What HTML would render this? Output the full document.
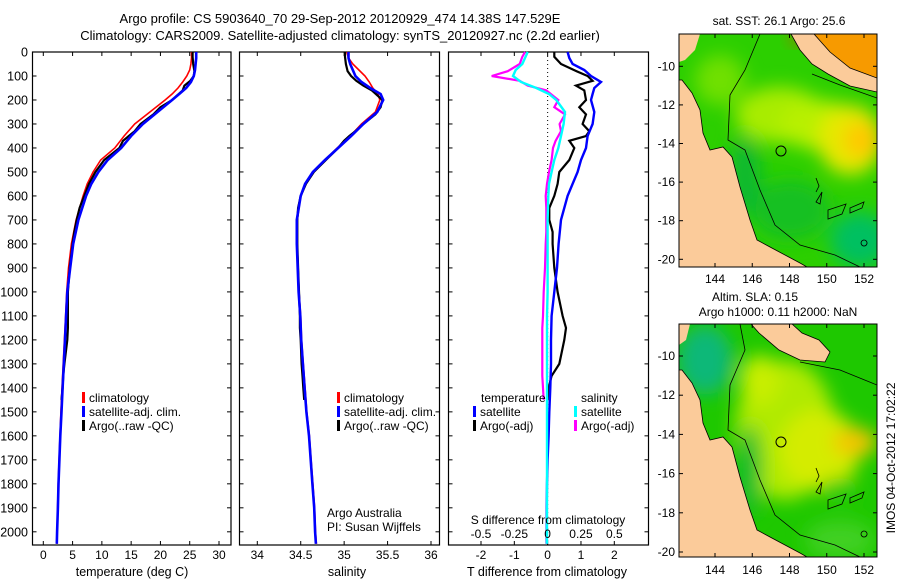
<!DOCTYPE html>
<html><head><meta charset="utf-8">
<style>
html,body{margin:0;padding:0;background:#fff;}
svg{display:block;font-family:"Liberation Sans",sans-serif;}
text{fill:#000;}
</style></head>
<body>
<svg id="fig" width="900" height="580" viewBox="0 0 900 580" xmlns="http://www.w3.org/2000/svg">
<defs>
<filter id="blur8" x="-50%" y="-50%" width="200%" height="200%"><feGaussianBlur stdDeviation="9"/></filter>
<clipPath id="clipM1"><rect x="679" y="34" width="198" height="233"/></clipPath>
<clipPath id="clipM2"><rect x="679" y="324" width="198" height="233"/></clipPath>
</defs>
<text x="340" y="23" font-size="13" text-anchor="middle">Argo profile: CS 5903640_70 29-Sep-2012 20120929_474 14.38S 147.529E</text>
<text x="340" y="40" font-size="13" text-anchor="middle">Climatology: CARS2009. Satellite-adjusted climatology: synTS_20120927.nc (2.2d earlier)</text>

<!-- Map 1 -->
<g>
<g clip-path="url(#clipM1)">
<rect x="679" y="34" width="198" height="233" fill="#2ccf00"/>
<g filter="url(#blur8)">
<ellipse cx="780" cy="115" rx="45" ry="28" fill="#a8ec00"/>
<ellipse cx="820" cy="125" rx="40" ry="25" fill="#b8f000"/>
<ellipse cx="850" cy="140" rx="32" ry="35" fill="#e6e800"/>
<ellipse cx="862" cy="140" rx="18" ry="18" fill="#ffc800"/>
<ellipse cx="860" cy="240" rx="30" ry="28" fill="#00c060"/>
<ellipse cx="790" cy="210" rx="40" ry="30" fill="#14c020"/>
<ellipse cx="745" cy="175" rx="15" ry="40" fill="#10b830"/>
<ellipse cx="720" cy="80" rx="25" ry="25" fill="#70e000"/>
</g>
<polygon points="812,34 877,34 877,78 850,68 830,52" fill="#f79a00"/>
<ellipse cx="800" cy="38" rx="10" ry="6" fill="#c85000" filter="url(#blur8)"/>
<polygon points="679,34 700,34 695,50 685,60 679,62" fill="#fbcb9a"/>
<polygon points="791,34 814,34 830,52 850,68 877,78 877,92 850,86 828,74 812,64 800,50" fill="#fbcb9a" stroke="#000" stroke-width="0.8"/>
<polygon points="679,80 682,80 692,93 700,110 703,133 710,150 723,147 732,157 740,187 750,220 757,240 770,247 800,263 807,267 679,267" fill="#fbcb9a" stroke="#000" stroke-width="0.8"/>
<polyline points="760,34 745,70 730,95 728,140 745,150 760,190 775,225 800,245 835,255 860,267" fill="none" stroke="#000" stroke-width="0.8"/>
<polyline points="812,74 840,85 877,98" fill="none" stroke="#000" stroke-width="0.8"/>
<path d="M816,178 l3,8 -3,6 M822,192 l-6,10 l4,2 z M828,210 l18,-6 -4,10 -14,5 z M850,208 l14,-6 -2,6 -12,5 z M864,240 a3,3 0 1,0 0.1,0" fill="none" stroke="#000" stroke-width="0.8"/>
</g>
<rect x="679" y="34" width="198" height="233" fill="none" stroke="#000" stroke-width="1"/>
<circle cx="781" cy="151" r="5" fill="none" stroke="#000" stroke-width="1"/>
<text x="779" y="25" font-size="12" text-anchor="middle">sat. SST: 26.1 Argo: 25.6</text>
</g>

<!-- Map 2 -->
<g>
<g clip-path="url(#clipM2)">
<rect x="679" y="324" width="198" height="233" fill="#1ec800"/>
<g filter="url(#blur8)">
<ellipse cx="705" cy="360" rx="28" ry="35" fill="#10b878"/>
<ellipse cx="785" cy="430" rx="50" ry="70" fill="#b0ea00"/>
<ellipse cx="820" cy="450" rx="40" ry="40" fill="#d4ec00"/>
<ellipse cx="855" cy="442" rx="22" ry="14" fill="#f5c400"/>
<ellipse cx="840" cy="490" rx="18" ry="12" fill="#2ccc10"/>
<ellipse cx="760" cy="380" rx="20" ry="25" fill="#c8ee00"/>
<ellipse cx="750" cy="470" rx="12" ry="45" fill="#18bc30"/>
<ellipse cx="840" cy="540" rx="35" ry="20" fill="#40d020"/>
</g>
<polygon points="751,324 792,324 802,333 819,340 830,352 825,362 800,360 779,350 759,333" fill="#fbcb9a" stroke="#000" stroke-width="0.8"/>
<polygon points="679,324 690,324 686,340 679,345" fill="#fbcb9a"/>
<polygon points="679,370 682,370 692,383 700,400 703,423 710,440 723,437 732,447 740,477 750,510 757,530 770,537 800,553 807,557 679,557" fill="#fbcb9a" stroke="#000" stroke-width="0.8"/>
<polyline points="740,324 745,350 730,385 728,430 745,440 760,480 775,515 800,535 835,545 860,557" fill="none" stroke="#000" stroke-width="0.8"/>
<polyline points="800,362 840,370 877,385" fill="none" stroke="#000" stroke-width="0.8"/>
<path d="M816,468 l3,8 -3,6 M822,482 l-6,10 l4,2 z M828,500 l18,-6 -4,10 -14,5 z M850,498 l14,-6 -2,6 -12,5 z M864,531 a3,3 0 1,0 0.1,0" fill="none" stroke="#000" stroke-width="0.8"/>
</g>
<rect x="679" y="324" width="198" height="233" fill="none" stroke="#000" stroke-width="1"/>
<circle cx="781" cy="442" r="5" fill="none" stroke="#000" stroke-width="1"/>
<text x="755" y="301" font-size="12" text-anchor="middle">Altim. SLA: 0.15</text>
<text x="778" y="316" font-size="12" text-anchor="middle">Argo h1000: 0.11 h2000: NaN</text>
</g>
<text transform="translate(895,458) rotate(-90)" font-size="12" text-anchor="middle">IMOS 04-Oct-2012 17:02:22</text>
<g id="plots"></g>
</svg>
<script>
// ---- data ----
const climDepth = [0,25,50,75,100,125,150,175,200,250,300,350,400,450,500,550,600,700,800,900,1000,1100,1200,1300,1400,1500,1600,1700,1800,1900,2000,2050];
const climTemp = [25.3,25.3,25.2,25.0,24.5,23.8,23.0,22.0,20.8,18.2,15.6,13.8,12.2,9.8,8.5,7.5,6.8,5.6,4.8,4.3,4.0,3.8,3.6,3.4,3.2,3.0,2.85,2.7,2.55,2.45,2.35,2.3];
const satTemp = [26.1,26.1,26.0,25.9,25.7,25.2,24.4,23.2,22.0,19.5,17.0,15.0,13.3,11.0,9.4,8.2,7.3,6.0,5.1,4.6,4.1,3.9,3.7,3.5,3.3,3.1,2.9,2.75,2.6,2.5,2.35,2.3];
const climSal = [35.03,35.05,35.1,35.17,35.24,35.29,35.33,35.39,35.41,35.36,35.2,35.07,34.92,34.78,34.64,34.56,34.5,34.46,34.46,34.47,34.48,34.5,34.51,34.53,34.55,34.57,34.6,34.62,34.64,34.66,34.67,34.68];
const satSal = [35.05,35.05,35.07,35.1,35.13,35.2,35.3,35.42,35.45,35.38,35.22,35.08,34.93,34.78,34.64,34.55,34.5,34.455,34.455,34.465,34.475,34.495,34.505,34.525,34.545,34.565,34.595,34.615,34.635,34.655,34.665,34.675];
const satTempDiff = [0.6,0.65,0.75,1.1,1.3,1.6,1.4,1.35,1.3,1.4,1.35,1.2,1.15,1.0,0.9,0.75,0.6,0.4,0.33,0.28,0.2,0.12,0.1,0.1,0.08,0.05,0.03,0.0,-0.02,-0.03,-0.03,-0.03];
const satSalDiff = [-0.15,-0.17,-0.19,-0.24,-0.26,-0.2,-0.085,0.01,0.065,0.13,0.12,0.1,0.08,0.05,0.03,0.01,0.005,0,0,0,0,-0.005,-0.005,-0.005,-0.005,-0.005,-0.005,-0.005,-0.005,-0.005,-0.005,-0.005];
const argoDepth = [0,20,50,80,100,120,140,160,200,230,260,300,330,350,370,400,450,500,550,600,650,700,750,800,900,1000,1100,1150,1200,1300,1350,1400,1450];
const argoTemp = [25.5,25.5,25.6,25.8,25.7,25.1,24.1,23.8,22.0,20.0,18.8,16.6,15.6,14.6,13.6,13.0,10.4,8.9,7.8,7.0,6.2,5.7,5.3,5.0,4.5,4.2,4.2,4.2,4.1,3.6,3.4,3.3,3.1];
const argoSal = [35.01,35.01,35.02,35.04,35.08,35.14,35.22,35.32,35.44,35.42,35.36,35.22,35.13,35.06,35.0,34.93,34.79,34.65,34.56,34.5,34.47,34.46,34.46,34.46,34.47,34.48,34.49,34.49,34.5,34.51,34.52,34.53,34.54];
const argoTempDiff = [0.2,0.2,0.4,0.87,1.2,1.35,0.85,1.1,1.15,0.95,1.15,1.05,1.25,1.15,0.65,0.8,0.65,0.35,0.3,0.2,0.05,0.05,0.15,0.15,0.2,0.3,0.45,0.55,0.5,0.35,0.12,0.03,0.0];
const argoSalDiff = [-0.17,-0.19,-0.21,-0.3,-0.42,-0.21,-0.15,-0.01,0.08,0.05,0.13,0.09,0.1,0.08,0.06,0.04,0.03,0.01,-0.005,-0.015,-0.01,-0.01,-0.01,-0.015,-0.02,-0.03,-0.035,-0.04,-0.04,-0.04,-0.04,-0.035,-0.03];
const depthTicks = [0,100,200,300,400,500,600,700,800,900,1000,1100,1200,1300,1400,1500,1600,1700,1800,1900,2000];
const tempTicks = [0,5,10,15,20,25,30];
const salTicks = [34,34.5,35,35.5,36];
const tDiffTicks = [-2,-1,0,1,2];
const sDiffTicks = [-0.5,-0.25,0,0.25,0.5];
const sDiffLabels = ["-0.5","-0.25","0","0.25","0.5"];
const lonTicks = [144,146,148,150,152];
const latTicks = [-10,-12,-14,-16,-18,-20];

// ---- scales ----
const NS = "http://www.w3.org/2000/svg";
const root = document.getElementById('plots');
const TOP = 52, BOT = 545;
const yD = d => TOP + (d / 2055) * (BOT - TOP);
const lin = (d0, d1, r0, r1) => v => r0 + (v - d0) / (d1 - d0) * (r1 - r0);
const P1 = {x0: 32.5, x1: 231}, P2 = {x0: 239.5, x1: 439.5}, P3 = {x0: 448.5, x1: 648.5};
const xT = lin(0, 30, 43.3, 219);
const xS = lin(34, 36, 257.3, 431);
const xTd = lin(-2, 2, 481, 614.3);
const xSd = lin(-0.5, 0.5, 481, 614.3);
const xLon = lin(144, 152, 715, 864);
const yLat1 = lin(-10, -20, 66.3, 259.3);
const yLat2 = lin(-10, -20, 356, 552);

function el(tag, attrs, parent) {
  const e = document.createElementNS(NS, tag);
  for (const k in attrs) e.setAttribute(k, attrs[k]);
  (parent || root).appendChild(e);
  return e;
}
function txt(s, x, y, anchor, parent, size) {
  const t = el('text', {x: x, y: y, 'font-size': size || 12, 'text-anchor': anchor || 'start'}, parent);
  t.textContent = s;
  return t;
}
function frame(P, name) {
  const g = el('g', {});
  
  
  el('rect', {x: P.x0, y: TOP, width: P.x1 - P.x0, height: BOT - TOP, fill: 'none', stroke: '#000', 'stroke-width': 1.2}, g);
  depthTicks.forEach(d => {
    const y = yD(d);
    el('line', {x1: P.x0, x2: P.x0 + 4, y1: y, y2: y, stroke: '#000'}, g);
    el('line', {x1: P.x1 - 4, x2: P.x1, y1: y, y2: y, stroke: '#000'}, g);
  });
  return g;
}
function xticks(g, ticks, sc, labels, P) {
  ticks.forEach((v, i) => {
    const x = sc(v);
    el('line', {x1: x, x2: x, y1: TOP, y2: TOP + 4, stroke: '#000'}, g);
    el('line', {x1: x, x2: x, y1: BOT - 4, y2: BOT, stroke: '#000'}, g);
    const t = txt(labels ? labels[i] : String(v), x, 559, 'middle', g);
    
    
  });
}
function line(depths, vals, sc, color, w, name, g) {
  const pts = depths.map((d, i) => sc(vals[i]).toFixed(1) + ',' + yD(d).toFixed(1)).join(' ');
  const p = el('polyline', {points: pts, fill: 'none', stroke: color, 'stroke-width': w, 'stroke-linejoin': 'miter'}, g);
  
  
  return p;
}
function legend(g, x, y, color, label) {
  el('rect', {x: x, y: y - 10, width: 3, height: 11, fill: color}, g);
  const t = txt(label, x + 7, y, 'start', g);
  
  
}

// Panel 1 - temperature
const g1 = frame(P1, 'temperature-panel');
depthTicks.forEach(d => {
  const t = txt(String(d), 28, yD(d) + 4.5, 'end', g1, 12.5);
  
  
});
xticks(g1, tempTicks, xT, null, P1);
line(climDepth, climTemp, xT, '#ff0000', 1.6, 'temp-climatology-line', g1);
line(argoDepth, argoTemp, xT, '#000000', 2.2, 'temp-argo-line', g1);
line(climDepth, satTemp, xT, '#0000ff', 2.6, 'temp-satellite-line', g1);
legend(g1, 82, 402, '#ff0000', 'climatology');
legend(g1, 82, 416, '#0000ff', 'satellite-adj. clim.');
legend(g1, 82, 430, '#000000', 'Argo(..raw -QC)');
const xl1 = txt('temperature (deg C)', 132, 576, 'middle', g1, 12.5);



// Panel 2 - salinity
const g2 = frame(P2, 'salinity-panel');
xticks(g2, salTicks, xS, null, P2);
line(climDepth, climSal, xS, '#ff0000', 1.6, 'sal-climatology-line', g2);
line(argoDepth, argoSal, xS, '#000000', 2.2, 'sal-argo-line', g2);
line(climDepth, satSal, xS, '#0000ff', 2.6, 'sal-satellite-line', g2);
legend(g2, 337, 402, '#ff0000', 'climatology');
legend(g2, 337, 416, '#0000ff', 'satellite-adj. clim.');
legend(g2, 337, 430, '#000000', 'Argo(..raw -QC)');
const a1 = txt('Argo Australia', 327, 517, 'start', g2);


const a2 = txt('PI: Susan Wijffels', 327, 531, 'start', g2);


const xl2 = txt('salinity', 347, 576, 'middle', g2, 12.5);



// Panel 3 - differences
const g3 = frame(P3, 'difference-panel');
xticks(g3, tDiffTicks, xTd, null, P3);
const z = el('line', {x1: xTd(0), x2: xTd(0), y1: TOP, y2: BOT, stroke: '#000', 'stroke-dasharray': '1,3'}, g3);


line(argoDepth, argoTempDiff, xTd, '#000000', 2.2, 'tdiff-argo-line', g3);
line(climDepth, satTempDiff, xTd, '#0000ff', 2.4, 'tdiff-satellite-line', g3);
line(argoDepth, argoSalDiff, xSd, '#ff00ff', 2.2, 'sdiff-argo-line', g3);
line(climDepth, satSalDiff, xSd, '#00ffff', 2.4, 'sdiff-satellite-line', g3);
const lt = txt('temperature', 481, 402, 'start', g3);


legend(g3, 473, 416, '#0000ff', 'satellite');
legend(g3, 473, 430, '#000000', 'Argo(-adj)');
const ls = txt('salinity', 581, 402, 'start', g3);


legend(g3, 574, 416, '#00ffff', 'satellite');
legend(g3, 574, 430, '#ff00ff', 'Argo(-adj)');
const st = txt('S difference from climatology', 548, 524, 'middle', g3);


sDiffTicks.forEach((v, i) => {
  const t = txt(sDiffLabels[i], xSd(v), 538, 'middle', g3);
  
  
});
const xl3 = txt('T difference from climatology', 547, 576, 'middle', g3, 12.5);



// Map ticks
function mapTicks(top, bot, yLat, name, labY) {
  const g = el('g', {});
  
  
  lonTicks.forEach(v => {
    const x = xLon(v);
    el('line', {x1: x, x2: x, y1: top, y2: top + 4, stroke: '#000'}, g);
    el('line', {x1: x, x2: x, y1: bot - 4, y2: bot, stroke: '#000'}, g);
    txt(String(v), x, labY, 'middle', g);
  });
  latTicks.forEach(v => {
    const y = yLat(v);
    el('line', {x1: 679, x2: 683, y1: y, y2: y, stroke: '#000'}, g);
    el('line', {x1: 873, x2: 877, y1: y, y2: y, stroke: '#000'}, g);
    txt(String(v), 675, y + 4, 'end', g);
  });
}
mapTicks(34, 267, yLat1, 'sst-map-axes', 283);
mapTicks(324, 557, yLat2, 'sla-map-axes', 574);
</script>
</body></html>
